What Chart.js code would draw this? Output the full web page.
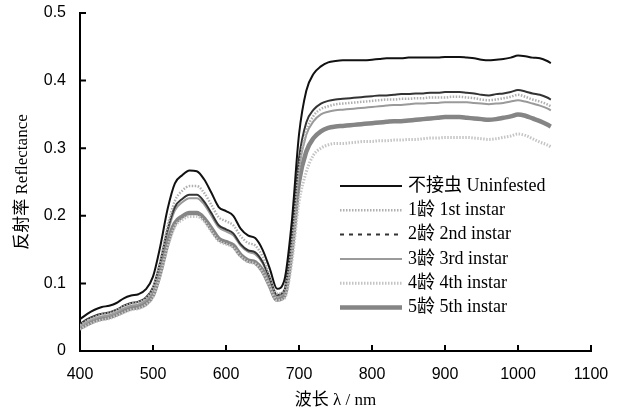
<!DOCTYPE html>
<html>
<head>
<meta charset="utf-8">
<script src="https://cdn.jsdelivr.net/npm/chart.js@4/dist/chart.umd.min.js"></script>
<style>
  html, body { margin: 0; padding: 0; background: #fff; }
  #wrap { width: 620px; height: 417px; }
</style>
</head>
<body>
<div id="wrap"><canvas id="spectra"></canvas></div>
<script>
// wavelength (nm)
const wavelengths = [
  400, 410, 420, 430, 440, 450, 460, 470, 480, 490,
  500, 510, 520, 530, 540, 550, 560, 570, 580, 590,
  600, 610, 620, 630, 640, 650, 660, 670, 680, 690,
  700, 710, 720, 730, 740, 750,
  760, 770, 780, 790, 800, 810, 820, 830, 840, 850,
  860, 870, 880, 890, 900, 910, 920, 930, 940, 950,
  960, 970, 980, 990, 1000, 1010, 1020, 1030, 1040, 1045
];

const uninfested = [
  .047, .055, .061, .065, .067, .071, .078, .082, .084, .091,
  .110, .155, .210, .248, .260, .267, .266, .254, .234, .213,
  .207, .200, .181, .171, .167, .150, .122, .092, .105, .190,
  .320, .385, .410, .421, .427, .429,
  .430, .430, .430, .430, .431, .432, .433, .433, .433, .434,
  .434, .434, .434, .434, .435, .435, .435, .434, .433, .431,
  .430, .431, .432, .434, .437, .436, .434, .433, .429, .426
];

const instar1 = [
  .038, .045, .050, .054, .056, .060, .066, .070, .072, .078,
  .093, .133, .185, .222, .237, .244, .244, .234, .216, .198,
  .192, .186, .170, .160, .156, .140, .112, .085, .090, .160,
  .270, .325, .348, .358, .362, .365,
  .366, .367, .368, .369, .370, .371, .372, .372, .373, .373,
  .374, .374, .375, .375, .375, .376, .376, .375, .374, .372,
  .371, .372, .374, .376, .379, .376, .372, .369, .365, .362
];

const instar2 = [
  .040, .047, .052, .055, .057, .061, .067, .071, .073, .079,
  .094, .132, .180, .213, .225, .231, .231, .221, .204, .186,
  .180, .174, .158, .149, .146, .132, .108, .083, .090, .170,
  .285, .338, .357, .366, .370, .372,
  .373, .374, .375, .376, .377, .378, .378, .379, .380, .380,
  .381, .381, .382, .382, .383, .383, .383, .382, .381, .379,
  .378, .380, .381, .383, .386, .384, .381, .379, .375, .372
];

const instar3 = [
  .036, .043, .048, .051, .053, .057, .063, .067, .069, .075,
  .090, .128, .175, .208, .220, .226, .226, .217, .200, .183,
  .177, .171, .156, .147, .143, .130, .106, .081, .087, .160,
  .270, .320, .340, .350, .354, .356,
  .357, .358, .359, .360, .361, .362, .363, .364, .364, .365,
  .366, .366, .367, .367, .368, .368, .368, .368, .367, .366,
  .365, .366, .367, .369, .371, .369, .366, .363, .359, .356
];

const instar4 = [
  .032, .038, .043, .046, .048, .052, .057, .061, .063, .068,
  .080, .112, .154, .184, .194, .199, .199, .192, .177, .163,
  .158, .153, .140, .132, .129, .117, .096, .075, .078, .130,
  .220, .265, .290, .300, .305, .307,
  .307, .308, .309, .310, .310, .311, .311, .312, .312, .313,
  .313, .314, .315, .315, .316, .316, .316, .316, .315, .314,
  .313, .314, .316, .318, .321, .319, .314, .309, .305, .302
];

const instar5 = [
  .034, .040, .045, .048, .050, .054, .059, .063, .065, .070,
  .083, .117, .160, .189, .199, .204, .204, .196, .181, .166,
  .161, .156, .142, .134, .131, .119, .097, .076, .082, .150,
  .250, .295, .315, .325, .330, .332,
  .333, .334, .335, .336, .337, .338, .339, .340, .340, .341,
  .342, .343, .344, .345, .346, .346, .346, .345, .344, .343,
  .342, .343, .345, .347, .350, .348, .344, .340, .335, .332
];

const seriesLabels = [
  '不接虫 Uninfested',
  '1龄 1st instar',
  '2龄 2nd instar',
  '3龄 3rd instar',
  '4龄 4th instar',
  '5龄 5th instar'
];

const xTicks = [400, 500, 600, 700, 800, 900, 1000, 1100];
const yTicks = [0, 0.1, 0.2, 0.3, 0.4, 0.5];

const serif = "'Liberation Serif', 'Times New Roman', 'Noto Sans CJK SC', serif";
Chart.defaults.font.family = "'Liberation Sans', Arial, sans-serif";
Chart.defaults.color = '#000';

function toPoints(values) {
  return values.map((v, i) => ({ x: wavelengths[i], y: v }));
}

const styles = [
  { borderColor: '#111111', borderWidth: 2 },
  { borderColor: '#b0b0b0', borderWidth: 2.5, borderDash: [1.5, 1.5] },
  { borderColor: '#333333', borderWidth: 2, legendDash: [4, 5] },
  { borderColor: '#9a9a9a', borderWidth: 2 },
  { borderColor: '#c4c4c4', borderWidth: 3, borderDash: [1.5, 1.5] },
  { borderColor: '#858585', borderWidth: 4.5 }
];

const allSeries = [uninfested, instar1, instar2, instar3, instar4, instar5];

const datasets = allSeries.map((vals, i) => Object.assign({
  label: seriesLabels[i],
  data: toPoints(vals),
  pointRadius: 0,
  fill: false,
  cubicInterpolationMode: 'monotone'
}, styles[i]));

// legend drawn inside the plot, to the right
const innerLegend = {
  id: 'innerLegend',
  afterDraw(chart) {
    const ctx = chart.ctx;
    ctx.save();
    ctx.font = '18px ' + serif;
    ctx.textBaseline = 'middle';
    ctx.fillStyle = '#000';
    chart.data.datasets.forEach((ds, i) => {
      const y = 186 + i * 24.3;
      ctx.beginPath();
      ctx.strokeStyle = ds.borderColor;
      ctx.lineWidth = ds.borderWidth;
      ctx.setLineDash(ds.legendDash || ds.borderDash || []);
      ctx.moveTo(340, y);
      ctx.lineTo(402, y);
      ctx.stroke();
      ctx.fillText(ds.label, 408, y);
    });
    ctx.restore();
  }
};

// tick marks pointing into the plot area
const innerTicks = {
  id: 'innerTicks',
  afterDraw(chart) {
    const ctx = chart.ctx;
    const xs = chart.scales.x, ys = chart.scales.y;
    const area = chart.chartArea;
    ctx.save();
    ctx.strokeStyle = '#000';
    ctx.lineWidth = 2;
    ctx.setLineDash([]);
    ctx.beginPath();
    xTicks.forEach(v => {
      const px = xs.getPixelForValue(v);
      ctx.moveTo(px, area.bottom);
      ctx.lineTo(px, area.bottom - 6);
    });
    yTicks.forEach(v => {
      const py = ys.getPixelForValue(v);
      ctx.moveTo(area.left, py);
      ctx.lineTo(area.left + 6, py);
    });
    ctx.stroke();
    ctx.restore();
  }
};

new Chart(document.getElementById('spectra'), {
  type: 'line',
  data: { datasets: datasets },
  options: {
    responsive: true,
    maintainAspectRatio: false,
    animation: false,
    layout: { padding: { top: 13, right: 29, left: 0, bottom: 0 } },
    plugins: {
      legend: { display: false },
      tooltip: { enabled: false }
    },
    scales: {
      x: {
        type: 'linear',
        min: 400,
        max: 1100,
        afterFit(scale) {
          scale.height = 66;
          scale.paddingLeft = 0;
          scale.paddingRight = 0;
        },
        afterBuildTicks(scale) { scale.ticks = xTicks.map(v => ({ value: v })); },
        ticks: { font: { size: 16 }, padding: 14, maxRotation: 0, callback: v => String(v) },
        grid: { drawOnChartArea: false, drawTicks: false },
        border: { display: true, color: '#000', width: 2 },
        title: {
          display: true,
          text: '波长 λ / nm',
          font: { family: serif, size: 17 },
          padding: { top: 0, bottom: 6 }
        }
      },
      y: {
        min: 0,
        max: 0.5,
        afterFit(scale) {
          scale.width = 80;
          scale.paddingTop = 0;
          scale.paddingBottom = 0;
        },
        afterBuildTicks(scale) { scale.ticks = yTicks.map(v => ({ value: v })); },
        ticks: { font: { size: 16 }, padding: 14, callback: v => String(v) },
        grid: { drawOnChartArea: false, drawTicks: false },
        border: { display: true, color: '#000', width: 2 },
        title: {
          display: true,
          text: '反射率 Reflectance',
          font: { family: serif, size: 17 },
          padding: { top: 12, bottom: 0 }
        }
      }
    }
  },
  plugins: [innerLegend, innerTicks]
});
</script>
</body>
</html>
